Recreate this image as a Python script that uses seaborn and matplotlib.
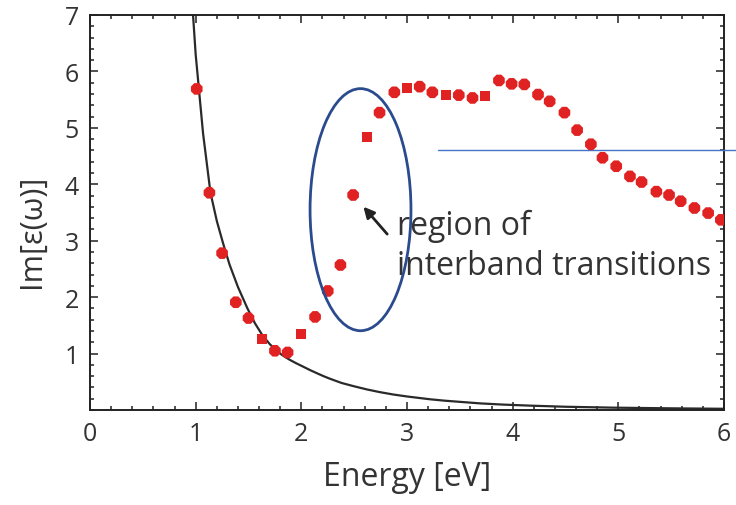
import numpy as np
import pandas as pd
import matplotlib
matplotlib.use("Agg")
import matplotlib.pyplot as plt
from matplotlib.patches import Ellipse
from matplotlib.ticker import MultipleLocator
import seaborn as sns

# ---- data ----
energy = [1.01, 1.13, 1.25, 1.38, 1.50, 1.63, 1.75, 1.87, 2.00, 2.13, 2.25, 2.37,
          2.49, 2.62, 2.74, 2.88, 3.00, 3.12, 3.24, 3.37, 3.49, 3.62, 3.74, 3.87,
          3.99, 4.11, 4.24, 4.35, 4.49, 4.61, 4.74, 4.85, 4.98, 5.11, 5.22, 5.36,
          5.48, 5.59, 5.72, 5.85, 5.97]
im_eps = [5.69, 3.85, 2.78, 1.91, 1.63, 1.26, 1.05, 1.02, 1.35, 1.65, 2.11, 2.57,
          3.81, 4.84, 5.27, 5.63, 5.71, 5.73, 5.63, 5.59, 5.58, 5.53, 5.57, 5.84,
          5.78, 5.77, 5.59, 5.47, 5.27, 4.96, 4.71, 4.47, 4.32, 4.14, 4.04, 3.87,
          3.81, 3.70, 3.58, 3.49, 3.37]
marker_kind = ["oct"] * len(energy)
for i in [5, 8, 13, 16, 19, 22]:
    marker_kind[i] = "sq"

# Drude-like curve
curve_e = [0.975, 1.0, 1.03, 1.07, 1.14, 1.20, 1.26, 1.32, 1.40, 1.49, 1.56, 1.63,
           1.70, 1.77, 1.83, 1.89, 1.95, 2.01, 2.08, 2.15, 2.21, 2.27, 2.38, 2.50,
           2.62, 2.74, 2.87, 3.00, 3.11, 3.22, 3.36, 3.50, 3.69, 3.90, 4.16, 4.50,
           4.95, 5.50, 6.00]
curve_y = [7.0, 6.3, 5.7, 4.9, 3.85, 3.35, 2.95, 2.58, 2.18, 1.80, 1.54, 1.33,
           1.17, 1.04, 0.96, 0.89, 0.83, 0.775, 0.71, 0.65, 0.60, 0.555, 0.48, 0.42,
           0.365, 0.318, 0.275, 0.24, 0.215, 0.19, 0.165, 0.145, 0.118, 0.097, 0.078,
           0.058, 0.042, 0.03, 0.022]

x_ticks = [0, 1, 2, 3, 4, 5, 6]
y_ticks = [1, 2, 3, 4, 5, 6, 7]

df = pd.DataFrame({"Energy": energy, "Im": im_eps, "kind": marker_kind})
curve = pd.DataFrame({"Energy": curve_e, "Im": curve_y})

sns.set_style("white")
plt.rcParams["font.family"] = ["Open Sans", "DejaVu Sans"]

fig = plt.figure(figsize=(7.36, 5.06), dpi=100)
ax = fig.add_axes([0.1223, 0.1877, 0.8614, 0.7807])

sns.lineplot(data=curve, x="Energy", y="Im", ax=ax, color="#2a2a2a", lw=1.6,
             sort=False, estimator=None)

red = "#E02222"
sns.scatterplot(data=df[df.kind == "oct"], x="Energy", y="Im", ax=ax, marker="8",
                s=82, color=red, edgecolor="none", zorder=5)
sns.scatterplot(data=df[df.kind == "sq"], x="Energy", y="Im", ax=ax, marker="s",
                s=52, color=red, edgecolor="none", zorder=5)

ax.set_xlim(0, 6)
ax.set_ylim(0, 7)
ax.set_xticks(x_ticks)
ax.set_yticks(y_ticks)
ax.xaxis.set_minor_locator(MultipleLocator(0.2))
ax.yaxis.set_minor_locator(MultipleLocator(0.2))
ax.tick_params(which="both", direction="in", top=True, right=True,
               bottom=True, left=True, colors="#222222", width=1.1)
ax.tick_params(which="major", length=6, labelsize=18, pad=8)
ax.tick_params(which="minor", length=3)
for lab in ax.get_xticklabels() + ax.get_yticklabels():
    lab.set_color("#333333")
for sp in ax.spines.values():
    sp.set_color("#222222")
    sp.set_linewidth(1.4)

ax.set_xlabel("Energy [eV]", fontsize=23, color="#333333", labelpad=10)
ax.set_ylabel("Im[ε(ω)]", fontsize=22, color="#333333")
ax.yaxis.set_label_coords(-0.068, 0.455)

# ellipse around the interband region
ax.add_patch(Ellipse((2.56, 3.55), 0.955, 4.29, fill=False,
                     edgecolor="#2A4B8D", lw=2.0, zorder=6))

# annotation
ax.annotate("", xy=(2.57, 3.64), xytext=(2.83, 3.08),
            arrowprops=dict(arrowstyle="-|>", color="#222222", lw=2,
                            mutation_scale=16))
ax.text(2.91, 3.12, "region of", fontsize=23, color="#333333", va="baseline")
ax.text(2.91, 2.41, "interband transitions", fontsize=23, color="#333333",
        va="baseline")

# thin blue line that runs out to the figure edge
ax.plot([3.29, 6.12], [4.6, 4.6], color="#4472C4", lw=1.0, clip_on=False, zorder=4)

fig.savefig("out.png", dpi=100)
